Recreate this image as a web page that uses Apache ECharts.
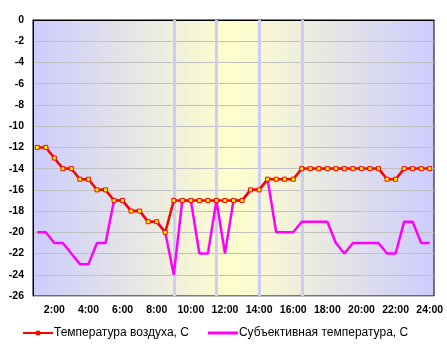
<!DOCTYPE html>
<html>
<head>
<meta charset="utf-8">
<script src="https://cdn.jsdelivr.net/npm/echarts@6/dist/echarts.min.js"></script>
<style>
  html, body { margin: 0; padding: 0; background: #fff; }
  #chart { width: 447px; height: 352px; }
</style>
</head>
<body>
<div id="chart"></div>
<script>
// время (шаг 30 мин)
var hours = ['1:00', '1:30', '2:00', '2:30', '3:00', '3:30', '4:00', '4:30', '5:00', '5:30',
  '6:00', '6:30', '7:00', '7:30', '8:00', '8:30', '9:00', '9:30', '10:00', '10:30',
  '11:00', '11:30', '12:00', '12:30', '13:00', '13:30', '14:00', '14:30', '15:00', '15:30',
  '16:00', '16:30', '17:00', '17:30', '18:00', '18:30', '19:00', '19:30', '20:00', '20:30',
  '21:00', '21:30', '22:00', '22:30', '23:00', '23:30', '24:00'];
// температура воздуха
var airTemp = [-12, -12, -13, -14, -14, -15, -15, -16, -16, -17, -17, -18, -18, -19, -19, -20,
  -17, -17, -17, -17, -17, -17, -17, -17, -17, -16, -16, -15, -15, -15, -15,
  -14, -14, -14, -14, -14, -14, -14, -14, -14, -14, -15, -15, -14, -14, -14, -14];
// субъективная температура
var feelTemp = [-20, -20, -21, -21, -22, -23, -23, -21, -21, -17, -17, -18, -18, -19, -19, -20,
  -24, -17, -17, -22, -22, -17, -22, -17, -17, -16, -16, -15, -20, -20, -20,
  -19, -19, -19, -19, -21, -22, -21, -21, -21, -21, -22, -22, -19, -19, -21, -21];
// вертикальные отметки
var markHours = ['9:00', '11:30', '14:00', '16:30'];
var seriesNames = ['Температура воздуха, С', 'Субъективная температура, С'];

var chart = echarts.init(document.getElementById('chart'));
var font = 'Arial, "Liberation Sans", sans-serif';

var option = {
  animation: false,
  backgroundColor: '#fff',
  textStyle: { fontFamily: font },
  grid: {
    left: 33,
    right: 13,
    top: 20,
    bottom: 56,
    show: true,
    borderColor: '#000',
    borderWidth: 1,
    backgroundColor: {
      type: 'linear', x: 0, y: 0, x2: 1, y2: 0,
      colorStops: [
        { offset: 0, color: '#ccccff' },
        { offset: 0.5, color: '#ffffcc' },
        { offset: 1, color: '#ccccff' }
      ]
    }
  },
  legend: {
    left: 17,
    top: 322,
    itemWidth: 30,
    itemHeight: 3,
    itemGap: 19,
    textStyle: { fontFamily: font, fontSize: 12, color: '#000', padding: [0, 0, 0, -4] },
    data: [
      { name: seriesNames[0] },
      { name: seriesNames[1], icon: 'rect' }
    ]
  },
  xAxis: {
    type: 'category',
    data: hours,
    boundaryGap: true,
    axisLine: { lineStyle: { color: '#000', width: 1 } },
    axisTick: { interval: 1, length: 4, lineStyle: { color: '#000' } },
    axisLabel: {
      interval: function (index) { return index % 4 === 2; },
      color: '#000',
      fontWeight: 'bold',
      fontSize: 10.5,
      margin: 9
    },
    splitLine: { show: false }
  },
  yAxis: {
    type: 'value',
    min: -26,
    max: 0,
    interval: 2,
    axisLine: { show: true, lineStyle: { color: '#000', width: 1 } },
    axisTick: { show: false },
    axisLabel: { color: '#000', fontWeight: 'bold', fontSize: 10.5, margin: 9 },
    splitLine: { lineStyle: { color: '#c0c0c0', width: 1 } }
  },
  series: [
    {
      name: 'marks',
      type: 'line',
      data: [],
      z: 1,
      silent: true,
      markLine: {
        z: 1,
        silent: true,
        symbol: 'none',
        label: { show: false },
        emphasis: { disabled: true },
        lineStyle: { color: '#ccccf8', width: 3, type: 'solid', opacity: 1 },
        data: markHours.map(function (h) { return { xAxis: h }; })
      }
    },
    {
      name: seriesNames[1],
      type: 'line',
      data: feelTemp,
      z: 3,
      showSymbol: false,
      symbol: 'none',
      lineStyle: { color: '#ff00ff', width: 2.5 },
      itemStyle: { color: '#ff00ff' }
    },
    {
      name: seriesNames[0],
      type: 'line',
      data: airTemp,
      z: 4,
      symbol: 'rect',
      symbolSize: 4,
      lineStyle: { color: '#ff0000', width: 2.5 },
      itemStyle: { color: '#ffff00', borderColor: '#ff0000', borderWidth: 1 }
    }
  ]
};
chart.setOption(option);
</script>
</body>
</html>
